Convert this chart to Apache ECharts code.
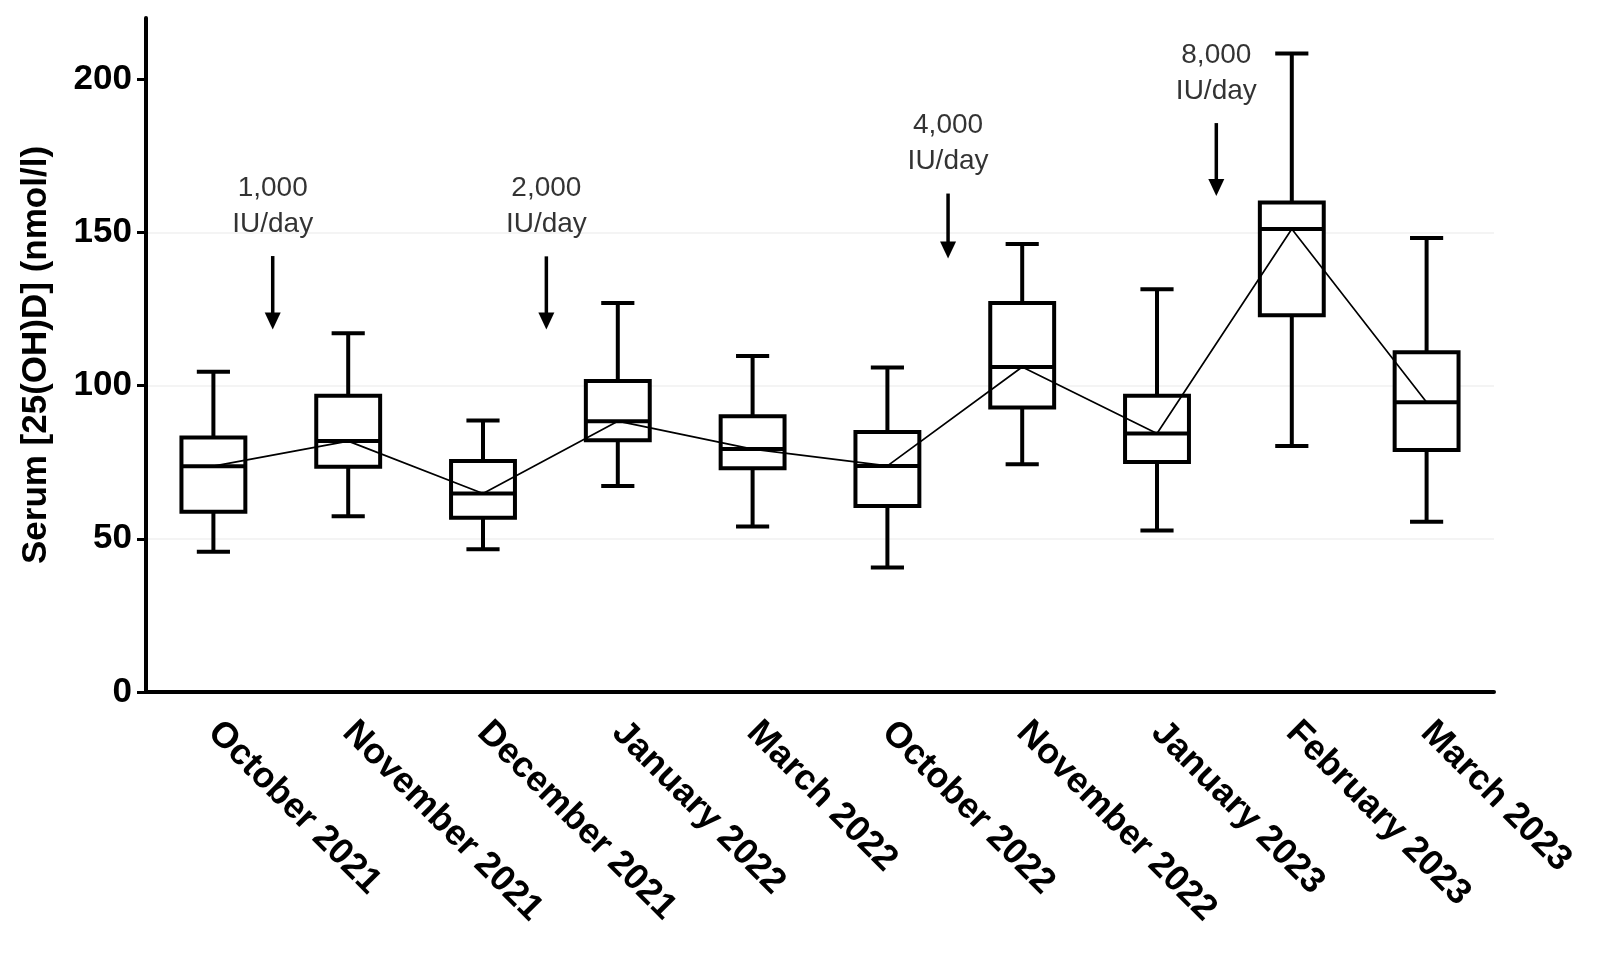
<!DOCTYPE html>
<html>
<head>
<meta charset="utf-8">
<script src="https://cdn.jsdelivr.net/npm/echarts@6/dist/echarts.min.js"></script>
<style>
  html, body { margin: 0; padding: 0; background: #fff; }
  #chart { width: 1600px; height: 964px; }
</style>
</head>
<body>
<div id="chart"></div>
<script>
// sampling months
const months = ['October 2021', 'November 2021', 'December 2021', 'January 2022', 'March 2022',
  'October 2022', 'November 2022', 'January 2023', 'February 2023', 'March 2023'];

// box plot values, nmol/l
const mins    = [45.8, 57.4, 46.6, 67.2, 54.0, 40.6, 74.3, 52.7, 80.3, 55.6];
const q1s     = [58.8, 73.5, 56.9, 82.2, 73.0, 60.7, 92.9, 75.1, 123.0, 79.0];
const medians = [73.7, 81.9, 64.8, 88.4, 79.3, 73.8, 106.1, 84.4, 151.1, 94.6];
const q3s     = [83.1, 96.7, 75.4, 101.5, 90.0, 84.9, 127.0, 96.7, 159.8, 110.9];
const maxs    = [104.5, 117.1, 88.6, 127.0, 109.7, 105.9, 146.2, 131.5, 208.4, 148.2];

const yTicks = [0, 50, 100, 150, 200];

// dose change annotations (x in category units, y in nmol/l)
const doseLabels = ['1,000\nIU/day', '2,000\nIU/day', '4,000\nIU/day', '8,000\nIU/day'];
const dosePos    = [0.44, 2.47, 5.45, 7.44];
const arrowTop   = [142.3, 142.2, 162.7, 185.7];
const arrowTip   = [118.3, 118.3, 141.5, 161.9];

const FONT = "'Liberation Sans', Arial, sans-serif";

const boxData = months.map((m, i) => [i, mins[i], q1s[i], medians[i], q3s[i], maxs[i]]);
const arrowData = dosePos.map((p, i) => [p, arrowTop[i], arrowTip[i]]);
const labelData = dosePos.map((p, i) => [p, arrowTop[i]]);

function renderBox(params, api) {
  const i = api.value(0);
  const band = api.size([1, 0])[0];
  const half = band * 0.237;
  const cap = band * 0.123;
  const x = api.coord([i, 0])[0];
  const y = k => api.coord([i, api.value(k)])[1];
  const yMin = y(1), yQ1 = y(2), yMed = y(3), yQ3 = y(4), yMax = y(5);
  const st = { stroke: '#000', lineWidth: 4, fill: null };
  return {
    type: 'group',
    children: [
      { type: 'line', shape: { x1: x, y1: yMax, x2: x, y2: yQ3 }, style: st },
      { type: 'line', shape: { x1: x, y1: yQ1, x2: x, y2: yMin }, style: st },
      { type: 'line', shape: { x1: x - cap, y1: yMax, x2: x + cap, y2: yMax }, style: st },
      { type: 'line', shape: { x1: x - cap, y1: yMin, x2: x + cap, y2: yMin }, style: st },
      { type: 'rect', shape: { x: x - half, y: yQ3, width: half * 2, height: yQ1 - yQ3 },
        style: { stroke: '#000', lineWidth: 4, fill: '#fff' } },
      { type: 'line', shape: { x1: x - half, y1: yMed, x2: x + half, y2: yMed }, style: st }
    ]
  };
}

function renderArrow(params, api) {
  const top = api.coord([api.value(0), api.value(1)]);
  const tip = api.coord([api.value(0), api.value(2)]);
  const head = 17, hw = 8;
  return {
    type: 'group',
    children: [
      { type: 'line', shape: { x1: top[0], y1: top[1], x2: tip[0], y2: tip[1] - head + 2 },
        style: { stroke: '#000', lineWidth: 3.5 } },
      { type: 'polygon', shape: { points: [[tip[0] - hw, tip[1] - head], [tip[0] + hw, tip[1] - head], [tip[0], tip[1]]] },
        style: { fill: '#000' } }
    ]
  };
}

const chart = echarts.init(document.getElementById('chart'));

chart.setOption({
  backgroundColor: '#fff',
  animation: false,
  grid: { left: 146, right: 106, top: 18, bottom: 272 },
  xAxis: [
    {
      type: 'category',
      data: months,
      boundaryGap: true,
      axisLine: { lineStyle: { color: '#000', width: 4 } },
      axisTick: { alignWithLabel: true, length: 8, lineStyle: { color: '#000', width: 3 } },
      axisLabel: {
        interval: 0, rotate: -45, margin: 35,
        color: '#000', fontSize: 36, fontWeight: 'bold', fontFamily: FONT
      },
      splitLine: { show: false }
    },
    { type: 'value', min: -0.5, max: 9.5, show: false }
  ],
  yAxis: {
    type: 'value',
    min: 0, max: 220, interval: 50,
    name: 'Serum [25(OH)D] (nmol/l)',
    nameLocation: 'middle',
    nameGap: 92,
    nameTextStyle: { color: '#000', fontSize: 35, fontWeight: 'bold', fontFamily: FONT },
    axisLine: { show: true, onZero: false, lineStyle: { color: '#000', width: 4 } },
    axisTick: { show: true, length: 9, customValues: yTicks, lineStyle: { color: '#000', width: 3 } },
    axisLabel: { customValues: yTicks, margin: 14, color: '#000', fontSize: 35, fontWeight: 'bold', fontFamily: FONT },
    splitLine: { show: true, showMinLine: false, showMaxLine: false, lineStyle: { color: '#f0f0f0', width: 1.5 } }
  },
  series: [
    {
      type: 'custom',
      name: 'box',
      renderItem: renderBox,
      encode: { x: 0, y: [1, 2, 3, 4, 5] },
      data: boxData,
      z: 2
    },
    {
      type: 'line',
      name: 'median',
      data: medians,
      symbol: 'none',
      lineStyle: { color: '#000', width: 1.7 },
      z: 3
    },
    {
      type: 'custom',
      name: 'arrows',
      xAxisIndex: 1,
      renderItem: renderArrow,
      encode: { x: 0, y: [1, 2] },
      data: arrowData,
      z: 4
    },
    {
      type: 'scatter',
      name: 'dose',
      xAxisIndex: 1,
      data: labelData,
      symbolSize: 0,
      label: {
        show: true,
        position: 'top',
        distance: 14,
        formatter: p => doseLabels[p.dataIndex],
        color: '#000',
        fontSize: 28,
        lineHeight: 36,
        fontFamily: FONT,
        align: 'center'
      },
      z: 5
    }
  ]
});
</script>
</body>
</html>
